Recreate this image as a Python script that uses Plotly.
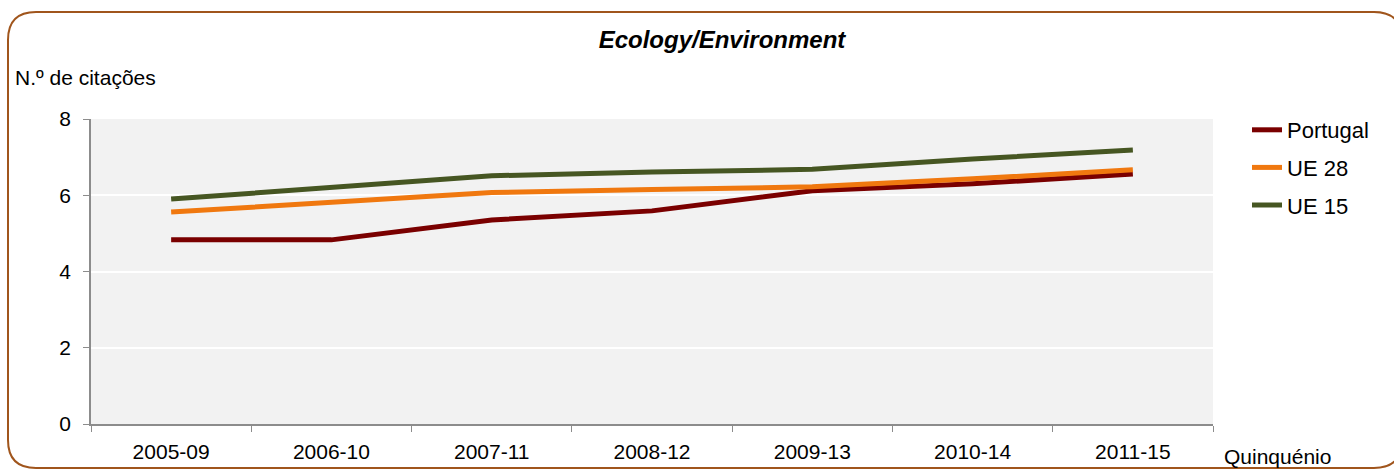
import plotly.graph_objects as go

categories = ["2005-09", "2006-10", "2007-11", "2008-12", "2009-13", "2010-14", "2011-15"]
portugal = [4.83, 4.83, 5.35, 5.59, 6.12, 6.30, 6.56]
ue28 = [5.56, 5.83, 6.07, 6.15, 6.22, 6.43, 6.67]
ue15 = [5.90, 6.19, 6.51, 6.61, 6.68, 6.95, 7.19]
y_ticks = [0, 2, 4, 6, 8]

W, H = 1394, 470
L, R, T, B = 91, 1213, 119, 424
FONT = "Liberation Sans, Arial, sans-serif"

def px(x):
    return (x - L) / (R - L)

def py(y):
    return (B - y) / (B - T)

fig = go.Figure()
for name, vals, col in [("Portugal", portugal, "#7a0000"),
                        ("UE 28", ue28, "#f0780f"),
                        ("UE 15", ue15, "#465622")]:
    fig.add_trace(go.Scatter(x=categories, y=vals, name=name, mode="lines",
                             legendgroup=name,
                             line=dict(color=col, width=5)))

# rounded border
x0, y0, x1, y1, r = 8, 12, 1402, 468, 28
path = (f"M {px(x0)},{py(y0 + r)} "
        f"Q {px(x0)},{py(y0)} {px(x0 + r)},{py(y0)} "
        f"L {px(x1 - r)},{py(y0)} Q {px(x1)},{py(y0)} {px(x1)},{py(y0 + r)} "
        f"L {px(x1)},{py(y1 - r)} Q {px(x1)},{py(y1)} {px(x1 - r)},{py(y1)} "
        f"L {px(x0 + r)},{py(y1)} Q {px(x0)},{py(y1)} {px(x0)},{py(y1 - r)} Z")
fig.add_shape(type="path", path=path, xref="paper", yref="paper",
              line=dict(color="#a0551c", width=2), layer="below")

fig.update_layout(
    width=W, height=H,
    margin=dict(l=L, r=W - R, t=T, b=H - B, pad=0, autoexpand=False),
    paper_bgcolor="white", plot_bgcolor="#f2f2f2",
    font=dict(family=FONT, size=21, color="#000000"),
    title=dict(text="<b><i>Ecology/Environment</i></b>", x=px(722), xanchor="center",
               xref="paper", y=1 - 40 / H, yanchor="middle",
               font=dict(size=24, family=FONT)),
    showlegend=True,
    legend=dict(x=px(1247), y=py(109), xanchor="left", yanchor="top",
                bgcolor="rgba(0,0,0,0)", font=dict(size=22), tracegroupgap=6),
    xaxis=dict(type="category", range=[-0.5, 6.5], showgrid=False, automargin=False,
               showline=True, linecolor="#8c8c8c", linewidth=1.5,
               ticks="outside", tickson="boundaries", ticklen=6, tickcolor="#8c8c8c",
               tickfont=dict(size=21), ticklabelstandoff=8, fixedrange=True),
    yaxis=dict(range=[0, 8], tickvals=y_ticks, showgrid=True, gridcolor="white",
               automargin=False,
               gridwidth=2, showline=True, linecolor="#8c8c8c", linewidth=1.5,
               ticks="outside", ticklen=6, tickcolor="#8c8c8c", zeroline=False,
               tickfont=dict(size=21), ticklabelstandoff=8),
    annotations=[
        dict(text="N.º de citações", x=px(13), y=py(78), xref="paper", yref="paper",
             xanchor="left", yanchor="middle", showarrow=False, font=dict(size=21)),
        dict(text="Quinquénio", x=px(1222), y=py(456), xref="paper", yref="paper",
             xanchor="left", yanchor="middle", showarrow=False, font=dict(size=21)),
    ],
)

fig.write_html("out.html", config={"displayModeBar": False},
               post_script="document.body.style.margin='0';document.body.style.padding='0';")
